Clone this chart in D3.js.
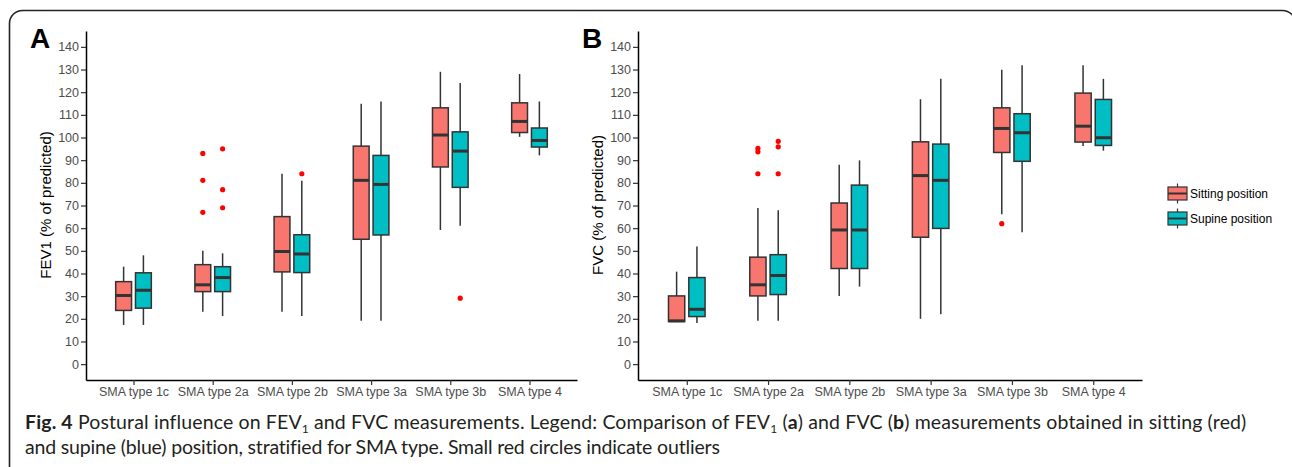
<!DOCTYPE html>
<html>
<head>
<meta charset="utf-8">
<script src="https://cdn.jsdelivr.net/npm/d3@7"></script>
<style>
  body { margin: 0; background: #fff; }
  svg { display: block; }
</style>
</head>
<body>
<svg width="1292" height="467"></svg>
<script>
// categories and groups
const categories = ["SMA type 1c", "SMA type 2a", "SMA type 2b", "SMA type 3a", "SMA type 3b", "SMA type 4"]
const positions = ["Sitting position", "Supine position"]
const yTicks = [0, 10, 20, 30, 40, 50, 60, 70, 80, 90, 100, 110, 120, 130, 140]

// five number summaries: [lower whisker, Q1, median, Q3, upper whisker]
const fev1Sitting = [[17.3, 23.7, 30.3, 36.4, 43], [23.1, 32, 35, 43.9, 50], [23.1, 40.7, 49.7, 65.1, 84],
                     [19.1, 55.1, 81.1, 96.2, 114.9], [59.2, 87, 101.1, 113.1, 129], [100.3, 102.2, 107.1, 115.3, 128]]
const fev1Supine  = [[17.3, 24.7, 32.6, 40.3, 48], [21.2, 32, 38.2, 43, 48.9], [21.2, 40.4, 48.6, 57.1, 80.9],
                     [19.1, 57, 79.3, 92.1, 115.9], [61.1, 78, 94, 102.5, 124], [92.1, 95.8, 98.7, 104.2, 115.9]]
const fvcSitting  = [[18.8, 18.8, 19.1, 30.1, 40.8], [19.1, 30.1, 35, 47.2, 68.9], [30.1, 42.2, 59.2, 71.1, 88],
                     [20, 56, 83.2, 98.1, 116.9], [66.1, 93.4, 104, 113.1, 129.9], [96.2, 98, 105, 119.6, 131.9]]
const fvcSupine   = [[18.1, 21, 24.2, 38.2, 51.9], [19.1, 30.7, 39.1, 48.3, 67.9], [34.2, 42.2, 59.2, 79, 89.9],
                     [22, 59.9, 81.1, 97.1, 125.9], [58.2, 89.5, 102.1, 110.5, 131.9], [94.2, 96.5, 99.9, 116.8, 125.9]]

// outliers per category
const fev1SittingOut = [[], [93, 81.1, 67], [], [], [], []]
const fev1SupineOut  = [[], [95, 77, 69], [84], [], [29.1], []]
const fvcSittingOut  = [[], [95.2, 93.7, 84], [], [], [62], []]
const fvcSupineOut   = [[], [98.3, 95.9, 84], [], [], [], []]

const colors = {"Sitting position": "#F8766D", "Supine position": "#00BFC4"}

let svg = d3.select('svg')

// frame round the figure
svg.append("rect")
   .attr("x", 9.5)
   .attr("y", 10.5)
   .attr("width", 1286)
   .attr("height", 500)
   .attr("rx", 13)
   .attr("fill", "none")
   .attr("stroke", "#222")
   .attr("stroke-width", 1.6)

const y = d3.scaleLinear().domain([-7, 147]).range([380, 31])

function drawPanel(label, title, x0, x1, sitting, supine, sitOut, supOut) {
  let g = svg.append("g")
  let x = d3.scalePoint().domain(categories).range([x0, x1]).padding(0.6)
  let step = x.step()
  let bw = 0.2 * step

  let groups = [
    {name: positions[0], stats: sitting, out: sitOut, dx: -0.125 * step},
    {name: positions[1], stats: supine, out: supOut, dx: 0.125 * step}
  ]

  groups.forEach(grp => {
    categories.forEach((c, i) => {
      let s = grp.stats[i]
      let cx = x(c) + grp.dx
      // whisker
      g.append("line")
       .attr("x1", cx).attr("x2", cx)
       .attr("y1", y(s[0])).attr("y2", y(s[4]))
       .attr("stroke", "#333").attr("stroke-width", 1.5)
      // box
      g.append("rect")
       .attr("x", cx - bw / 2)
       .attr("y", y(s[3]))
       .attr("width", bw)
       .attr("height", y(s[1]) - y(s[3]))
       .attr("fill", colors[grp.name])
       .attr("stroke", "#333").attr("stroke-width", 1.5)
      // median
      g.append("line")
       .attr("x1", cx - bw / 2).attr("x2", cx + bw / 2)
       .attr("y1", y(s[2])).attr("y2", y(s[2]))
       .attr("stroke", "#333").attr("stroke-width", 3)
      // outliers
      grp.out[i].forEach(v => {
        g.append("circle")
         .attr("cx", cx).attr("cy", y(v)).attr("r", 2.6)
         .attr("fill", "red")
      })
    })
  })

  // axes
  let yAxis = g.append("g")
               .attr("transform", `translate(${x0},0)`)
               .call(d3.axisLeft(y).tickValues(yTicks).tickSize(5).tickSizeOuter(0).tickPadding(2))
  let xAxis = g.append("g")
               .attr("transform", "translate(0,380)")
               .call(d3.axisBottom(x).tickSize(5).tickSizeOuter(0).tickPadding(2))
  ;[yAxis, xAxis].forEach(a => {
    a.select(".domain").attr("stroke", "#000").attr("stroke-width", 1.5)
    a.selectAll(".tick line").attr("stroke", "#333").attr("stroke-width", 1.2)
    a.selectAll(".tick text")
     .attr("fill", "#4d4d4d")
     .style("font-family", "Liberation Sans, Arial, sans-serif")
     .style("font-size", "12.5px")
  })

  // y title
  g.append("text")
   .attr("transform", `translate(${x0 - 41},205) rotate(-90)`)
   .attr("text-anchor", "middle")
   .attr("dominant-baseline", "central")
   .style("font-family", "Liberation Sans, Arial, sans-serif")
   .style("font-size", "15px")
   .text(title)

  // panel letter
  g.append("text")
   .attr("x", x0 - 56)
   .attr("y", 48)
   .style("font-family", "Liberation Sans, Arial, sans-serif")
   .style("font-size", "28px")
   .style("font-weight", "bold")
   .text(label)
}

drawPanel("A", "FEV1 (% of predicted)", 86, 577, fev1Sitting, fev1Supine, fev1SittingOut, fev1SupineOut)
drawPanel("B", "FVC (% of predicted)", 638, 1142, fvcSitting, fvcSupine, fvcSittingOut, fvcSupineOut)

// legend
let legend = svg.append("g")
positions.forEach((p, i) => {
  let cy = 193.5 + i * 25
  let lx = 1177.5
  legend.append("line")
        .attr("x1", lx).attr("x2", lx)
        .attr("y1", cy - 10).attr("y2", cy + 10)
        .attr("stroke", "#333").attr("stroke-width", 1.2)
  legend.append("rect")
        .attr("x", lx - 9.5).attr("y", cy - 6.5)
        .attr("width", 19).attr("height", 13)
        .attr("fill", colors[p])
        .attr("stroke", "#333").attr("stroke-width", 1.2)
  legend.append("line")
        .attr("x1", lx - 9.5).attr("x2", lx + 9.5)
        .attr("y1", cy).attr("y2", cy)
        .attr("stroke", "#333").attr("stroke-width", 2)
  legend.append("text")
        .attr("x", 1190).attr("y", cy)
        .attr("dominant-baseline", "central")
        .style("font-family", "Liberation Sans, Arial, sans-serif")
        .style("font-size", "12px")
        .text(p)
})

// stretch a caption line to the width it has in the figure
function fitWidth(sel, target) {
  let node = sel.node()
  let w = node.getComputedTextLength()
  let n = node.textContent.length
  sel.style("letter-spacing", ((target - w) / n) + "px")
}

// caption
let cap1 = svg.append("text")
              .attr("x", 25).attr("y", 429)
              .style("font-family", "Lato, sans-serif")
              .style("font-size", "19.5px")
              .attr("fill", "#231f20")
cap1.append("tspan").style("font-weight", "bold").text("Fig. 4")
cap1.append("tspan").text(" Postural influence on FEV")
cap1.append("tspan").attr("dy", 4).style("font-size", "12px").text("1")
cap1.append("tspan").attr("dy", -4).text(" and FVC measurements. Legend: Comparison of FEV")
cap1.append("tspan").attr("dy", 4).style("font-size", "12px").text("1")
cap1.append("tspan").attr("dy", -4).text(" (")
cap1.append("tspan").style("font-weight", "bold").text("a")
cap1.append("tspan").text(") and FVC (")
cap1.append("tspan").style("font-weight", "bold").text("b")
cap1.append("tspan").text(") measurements obtained in sitting (red)")
fitWidth(cap1, 1221)

let cap2 = svg.append("text")
              .attr("x", 25).attr("y", 454)
              .style("font-family", "Lato, sans-serif")
              .style("font-size", "19.5px")
              .attr("fill", "#231f20")
              .text("and supine (blue) position, stratified for SMA type. Small red circles indicate outliers")
fitWidth(cap2, 695)
</script>
</body>
</html>
